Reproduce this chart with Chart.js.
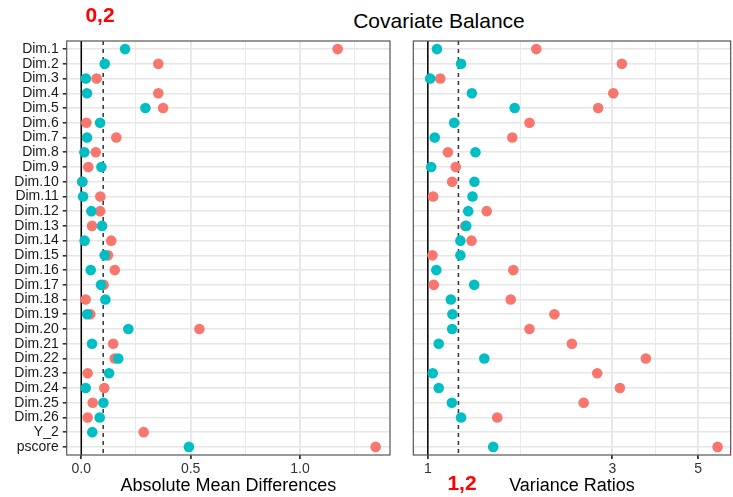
<!DOCTYPE html>
<html lang="en">
<head>
<meta charset="UTF-8">
<title>Covariate Balance</title>
<style>
    body { margin: 0; width: 733px; height: 497px; overflow: hidden; background: #fff; position: relative;
           font-family: "Liberation Sans", Arial, Helvetica, sans-serif; }
    canvas { position: absolute; top: 0; }
    #cvMean { left: 0; }
    #cvVar { left: 380px; }
    .txt { position: absolute; white-space: nowrap; transform: translate(-50%, -50%); line-height: 1; }
    #title { left: 439px; top: 20px; font-size: 21px; color: #000; }
    .mark { color: #ff0000; font-weight: bold; font-size: 21px; }
</style>
</head>
<body>
    <div class="txt" id="title">Covariate Balance</div>
    <canvas id="cvMean" width="400" height="497"></canvas>
    <canvas id="cvVar" width="356" height="497"></canvas>
    <div class="txt mark" style="left:100px; top:14px;">0,2</div>
    <div class="txt mark" style="left:462px; top:482px;">1,2</div>

    <script src="https://cdn.jsdelivr.net/npm/chart.js"></script>
    <script>
        var covariates = ['Dim.1', 'Dim.2', 'Dim.3', 'Dim.4', 'Dim.5', 'Dim.6', 'Dim.7', 'Dim.8', 'Dim.9',
            'Dim.10', 'Dim.11', 'Dim.12', 'Dim.13', 'Dim.14', 'Dim.15', 'Dim.16', 'Dim.17', 'Dim.18',
            'Dim.19', 'Dim.20', 'Dim.21', 'Dim.22', 'Dim.23', 'Dim.24', 'Dim.25', 'Dim.26', 'Y_2', 'pscore'];

        // absolute mean differences
        var meanUnadjusted = [1.172, 0.352, 0.070, 0.352, 0.374, 0.023, 0.160, 0.066, 0.032, 0.004,
            0.087, 0.086, 0.049, 0.137, 0.122, 0.153, 0.102, 0.020, 0.041, 0.540,
            0.146, 0.153, 0.029, 0.105, 0.052, 0.029, 0.285, 1.346];
        var meanAdjusted = [0.200, 0.107, 0.021, 0.026, 0.293, 0.086, 0.026, 0.014, 0.092, 0.005,
            0.008, 0.046, 0.095, 0.015, 0.107, 0.043, 0.090, 0.110, 0.027, 0.215,
            0.049, 0.169, 0.127, 0.020, 0.101, 0.084, 0.050, 0.492];

        // variance ratios (none for the binary Y_2)
        var varUnadjusted = [1.908, 3.176, 1.077, 3.018, 2.758, 1.832, 1.654, 1.127, 1.181, 1.156,
            1.032, 1.420, 1.250, 1.297, 1.028, 1.664, 1.036, 1.638, 2.125, 1.832,
            2.358, 3.664, 2.742, 3.139, 2.530, 1.512, null, 5.616];
        var varAdjusted = [1.056, 1.219, 1.014, 1.300, 1.677, 1.170, 1.042, 1.328, 1.020, 1.320,
            1.305, 1.272, 1.257, 1.214, 1.214, 1.052, 1.318, 1.147, 1.158, 1.156,
            1.067, 1.400, 1.030, 1.067, 1.154, 1.219, null, 1.476];

        var meanTicks = [0, 0.5, 1.0];
        var meanTickLabels = ['0.0', '0.5', '1.0'];
        var varTicks = [1, 3, 5];

        var meanBaseline = 0, meanThreshold = 0.1;
        var varBaseline = 1, varThreshold = 1.2;

        var RED = '#F8766D', TEAL = '#00BFC4', GRID = '#E6E6E6';
        var FONT = '"Liberation Sans", Arial, Helvetica, sans-serif';
        var Y_MIN = -0.55, Y_MAX = covariates.length - 1 + 0.55;

        function toPoints(values) {
            var pts = [];
            for (var i = 0; i < values.length; i++) {
                if (values[i] !== null) pts.push({ x: values[i], y: i });
            }
            return pts;
        }

        function refLine(x, color, dash) {
            return {
                data: [{ x: x, y: Y_MIN }, { x: x, y: Y_MAX }],
                showLine: true, pointRadius: 0, borderColor: color,
                borderWidth: 1.5, borderDash: dash
            };
        }

        // major ticks plus a minor grid line halfway between them
        function withMinor(majors, logScale, upper) {
            var ticks = [];
            for (var i = 0; i < majors.length; i++) {
                ticks.push({ value: majors[i], major: true });
                var next = i + 1 < majors.length ? majors[i + 1] : null;
                var mid;
                if (next !== null) mid = logScale ? Math.sqrt(majors[i] * next) : (majors[i] + next) / 2;
                else mid = logScale ? majors[i] * Math.sqrt(majors[i] / majors[i - 1]) : majors[i] + (majors[i] - majors[i - 1]) / 2;
                if (mid <= upper) ticks.push({ value: mid, major: false });
            }
            return ticks;
        }

        var panelBorder = {
            id: 'panelBorder',
            afterDraw: function (chart) {
                var a = chart.chartArea, ctx = chart.ctx;
                ctx.save();
                ctx.strokeStyle = '#555';
                ctx.lineWidth = 1.2;
                ctx.strokeRect(a.left, a.top, a.right - a.left, a.bottom - a.top);
                ctx.restore();
            }
        };

        function makePanel(id, cfg) {
            var ctx = document.getElementById(id).getContext('2d');
            return new Chart(ctx, {
                type: 'scatter',
                data: {
                    datasets: [
                        { data: toPoints(cfg.adjusted), backgroundColor: TEAL, pointRadius: 5.3, pointBorderWidth: 0, borderWidth: 0 },
                        { data: toPoints(cfg.unadjusted), backgroundColor: RED, pointRadius: 5.3, pointBorderWidth: 0, borderWidth: 0 },
                        refLine(cfg.baseline, '#000', []),
                        refLine(cfg.threshold, '#333', [4, 4])
                    ]
                },
                options: {
                    responsive: false,
                    animation: false,
                    devicePixelRatio: 1,
                    layout: { padding: { top: 41, right: cfg.padRight, left: 0, bottom: 0 } },
                    plugins: { legend: { display: false }, tooltip: { enabled: false } },
                    scales: {
                        x: {
                            type: cfg.xType,
                            min: cfg.xMin,
                            max: cfg.xMax,
                            border: { display: false },
                            afterBuildTicks: function (s) { s.ticks = withMinor(cfg.ticks, cfg.xType === 'logarithmic', cfg.xMax); },
                            afterFit: function (s) { s.height = 42; },
                            grid: {
                                color: GRID,
                                lineWidth: function (c) { return c.tick && c.tick.major ? 1.8 : 0.9; },
                                tickColor: function (c) { return c.tick && c.tick.major ? '#333' : 'rgba(0,0,0,0)'; },
                                tickLength: 4
                            },
                            ticks: {
                                autoSkip: false, maxRotation: 0, padding: 2, color: '#333',
                                font: { family: FONT, size: 14 },
                                callback: function (v) {
                                    var k = cfg.ticks.indexOf(v);
                                    return k < 0 ? '' : cfg.tickLabels[k];
                                }
                            },
                            title: {
                                display: true, text: cfg.xTitle, color: '#000',
                                font: { family: FONT, size: 18 }, padding: { top: 0, bottom: 0 }
                            }
                        },
                        y: {
                            type: 'linear',
                            reverse: true,
                            min: Y_MIN,
                            max: Y_MAX,
                            border: { display: false },
                            afterBuildTicks: function (s) {
                                s.ticks = covariates.map(function (c, i) { return { value: i }; });
                            },
                            afterFit: function (s) { s.width = cfg.yWidth; },
                            grid: {
                                color: GRID, lineWidth: 1.6,
                                drawTicks: cfg.showLabels, tickColor: '#333', tickLength: 4
                            },
                            ticks: {
                                display: cfg.showLabels, autoSkip: false, padding: 4, color: '#1A1A1A',
                                font: { family: FONT, size: 14 },
                                callback: function (v) { return covariates[v]; }
                            }
                        }
                    }
                },
                plugins: [panelBorder]
            });
        }

        makePanel('cvMean', {
            adjusted: meanAdjusted, unadjusted: meanUnadjusted,
            baseline: meanBaseline, threshold: meanThreshold,
            xType: 'linear', xMin: -0.0668, xMax: 1.4115,
            ticks: meanTicks, tickLabels: meanTickLabels,
            xTitle: 'Absolute Mean Differences',
            yWidth: 66.7, padRight: 10, showLabels: true
        });

        makePanel('cvVar', {
            adjusted: varAdjusted, unadjusted: varUnadjusted,
            baseline: varBaseline, threshold: varThreshold,
            xType: 'logarithmic', xMin: 0.9172, xMax: 6.072,
            ticks: varTicks, tickLabels: varTicks.map(String),
            xTitle: 'Variance Ratios',
            yWidth: 33.3, padRight: 1, showLabels: false
        });
    </script>
</body>
</html>
